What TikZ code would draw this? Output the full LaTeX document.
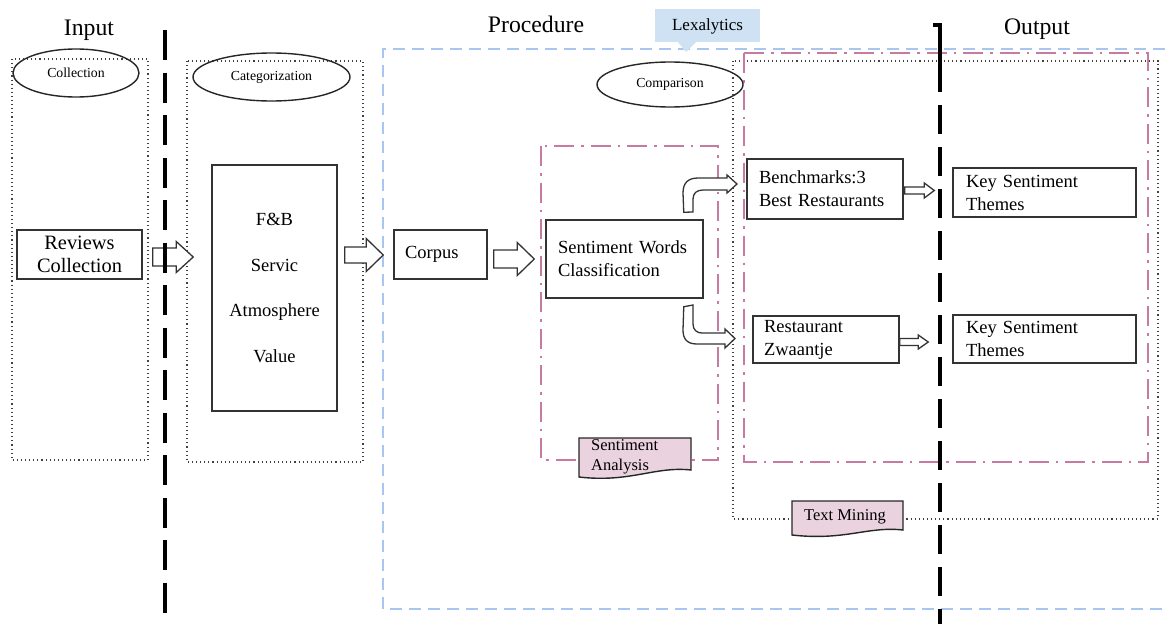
\documentclass[tikz,border=0pt]{standalone}
\usepackage{fontspec}
\setmainfont{Liberation Serif}
\usetikzlibrary{calc,shapes.geometric}
\definecolor{pinkline}{HTML}{C77BA3}
\definecolor{blueline}{HTML}{A9C6F2}
\definecolor{lexfill}{HTML}{CFE2F3}
\definecolor{tagfill}{HTML}{EAD3DE}
\newcommand\blockarr[5]{\draw[barrow] let \p1=#1, \p2=#2 in (\x1,\y1+#3) -- (\x2-#5,\y1+#3) -- (\x2-#5,\y1+#4) -- (\x2,\y1) -- (\x2-#5,\y1-#4) -- (\x2-#5,\y1-#3) -- (\x1,\y1-#3) -- cycle;}
\begin{document}
\begin{tikzpicture}[x=1pt,y=-1pt,
  dotbox/.style={draw=black!75, line width=1.1pt, dash pattern=on 1.1pt off 3pt},
  bluebox/.style={draw=blueline, line width=2.8pt, dash pattern=on 12pt off 7pt},
  pinkbox/.style={draw=pinkline, line width=2.8pt, dash pattern=on 20pt off 7pt on 2.5pt off 7pt},
  sepline/.style={draw=black, line width=4pt},
  ell/.style={draw=black!85, line width=1.4pt, ellipse, inner sep=0pt, font=\fontsize{13.8}{15}\selectfont},
  box/.style={draw=black!80, line width=1.5pt, fill=white, inner ysep=0pt, font=\fontsize{18.5}{23}\selectfont},
  lbox/.style={box, align=left},
  barrow/.style={draw=black!80, line width=1.3pt, fill=white, line join=miter},
  title/.style={font=\fontsize{23.7}{26}\selectfont, anchor=base, inner sep=0pt},
  tag/.style={draw=black!85, line width=1.4pt, fill=tagfill},
  tagtext/.style={font=\fontsize{16.5}{20}\selectfont, align=left, inner sep=0pt}
]
\useasboundingbox (0,0) rectangle (1165,624);

% dotted frames
\draw[dotbox] (12,59) rectangle (148,460);
\draw[dotbox] (187,61) rectangle (363,462);
\draw[dotbox] (733,61) rectangle (1158,519);

% blue dashed frame (Lexalytics)
\draw[bluebox] (1165,49) -- (383,49) -- (383,609) -- (1165,609);

% pink dash-dot frames
\draw[pinkbox] (541,146) rectangle (718,460);
\draw[pinkbox] (744,53) rectangle (1148,462);

% Lexalytics callout
\fill[lexfill] (655,9) rectangle (760,42);
\fill[lexfill] (677,41) -- (697,41) -- (686,52) -- cycle;
\node[font=\fontsize{17}{20}\selectfont, inner sep=0pt] (lex) at (707.5,26) {Lexalytics};

% ellipses
\node[ell, minimum width=126, minimum height=48] (ecol) at (76,73) {Collection};
\node[ell, minimum width=157, minimum height=48] (ecat) at (271.5,77) {Categorization};
\node[ell, minimum width=146, minimum height=45] (ecmp) at (670,84.5) {Comparison};

% boxes
\node[box, font=\fontsize{20.4}{23.5}\selectfont, align=center, minimum width=125, minimum height=49] (rev) at (79.5,254.5) {Reviews\\Collection};
\node[box, font=\fontsize{18.5}{45.5}\selectfont, align=center, minimum width=125, minimum height=246] (cat) at (274.5,288) {F\&B\\Servic\\Atmosphere\\Value};
\node[lbox, text width=71, inner xsep=11, minimum height=49] (corp) at (440.5,254.5) {Corpus};
\node[lbox, text width=133, inner xsep=12, minimum height=78] (swc) at (624.5,259) {Sentiment Words\\Classification};
\node[lbox, text width=132, inner xsep=12, minimum height=60] (bench) at (825,189) {Benchmarks:3\\Best Restaurants};
\node[lbox, text width=124, inner xsep=11, minimum height=47] (zw) at (826,339.5) {Restaurant\\Zwaantje};
\node[lbox, text width=157, inner xsep=13, minimum height=49] (key1) at (1044.5,192.5) {Key Sentiment\\Themes};
\node[lbox, text width=157, inner xsep=13, minimum height=48] (key2) at (1044.5,339) {Key Sentiment\\Themes};

% block arrows
\blockarr{($(rev.east)+(10,2.5)$)}{($(cat.west)+(-18,0)$)}{9}{15.5}{17}
\blockarr{($(cat.east)+(7,-33)$)}{($(corp.west)+(-10,0)$)}{8}{16.5}{17}
\blockarr{($(corp.east)+(6,4.5)$)}{($(swc.west)+(-11,0)$)}{9}{16.5}{17}
\blockarr{($(bench.east)+(1,1.5)$)}{($(key1.west)+(-18,0)$)}{3.5}{7.5}{10}
\blockarr{($(zw.east)+(0,2.5)$)}{($(key2.west)+(-24,0)$)}{3.5}{7}{10}

% bent arrows out of the classification box
\draw[barrow] ($(swc.north east)+(-20,-7)$) -- (683,193) .. controls (683,183) and (688,178) .. (698,178) -- (727,178) -- (727,175) -- (737,184) -- (727,193) -- (727,190) -- (703,190) .. controls (697,190) and (693,193) .. (693,199) -- (693,212) -- cycle;
\draw[barrow] ($(swc.south east)+(-20,8)$) -- (683,330) .. controls (683,339) and (687,344) .. (697,344) -- (725,344) -- (725,348) -- (735,338.5) -- (725,329) -- (725,333) -- (702,333) .. controls (697,333) and (693,330) .. (693,324) -- (693,305) -- cycle;

% tags
\draw[tag] (579,438) -- (691,438) -- (691,470) .. controls (655,466) and (630,483) .. (579,477) -- cycle;
\node[tagtext, anchor=west] (sa) at (591,457) {Sentiment\\Analysis};
\draw[tag] (792,501) -- (903,501) -- (903,530) .. controls (868,526) and (845,541) .. (792,535) -- cycle;
\node[tagtext] (tm) at (845,517) {Text Mining};

% separator lines
\draw[sepline, dash pattern=on 30pt off 12.5pt] (165,30) -- (165,624);
\draw[sepline] (933,25) -- (940,25) -- (940,92);
\draw[sepline, dash pattern=on 29pt off 13pt] (940,105) -- (940,624);

% titles
\node[title] (tin) at (89,35) {Input};
\node[title] (tproc) at (536,32) {Procedure};
\node[title] (tout) at (1037,34) {Output};
\end{tikzpicture}
\end{document}
